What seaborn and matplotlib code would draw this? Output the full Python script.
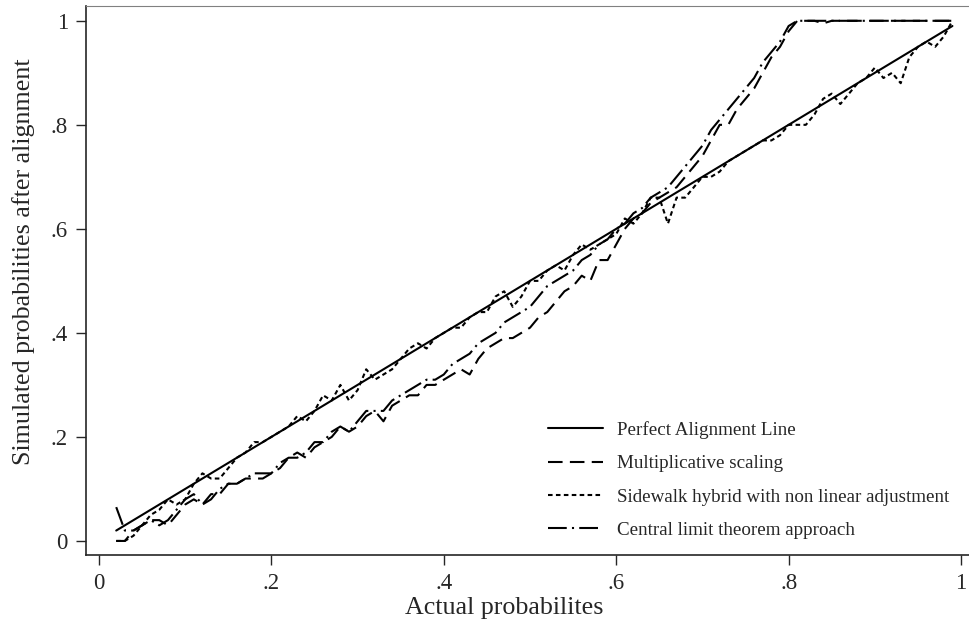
import numpy as np
import pandas as pd
import seaborn as sns
import matplotlib.pyplot as plt

# actual probabilities 0.02 .. 0.99
actual = [round(0.02 + 0.01 * i, 2) for i in range(98)]

perfect = actual

multiplicative = [
    0.00, 0.00, 0.02, 0.03, 0.04, 0.04, 0.03, 0.05, 0.07, 0.08,
    0.07, 0.09, 0.09, 0.11, 0.11, 0.12, 0.12, 0.12, 0.13, 0.14,
    0.16, 0.17, 0.16, 0.18, 0.19, 0.20, 0.22, 0.21, 0.22, 0.24,
    0.25, 0.23, 0.26, 0.27, 0.28, 0.28, 0.30, 0.30, 0.31, 0.32,
    0.33, 0.32, 0.35, 0.37, 0.38, 0.39, 0.39, 0.40, 0.41, 0.43,
    0.44, 0.46, 0.48, 0.49, 0.51, 0.50, 0.54, 0.54, 0.57, 0.60,
    0.62, 0.63, 0.65, 0.66, 0.67, 0.68, 0.70, 0.72, 0.74, 0.77,
    0.80, 0.80, 0.83, 0.85, 0.87, 0.90, 0.93, 0.95, 0.98, 1.00,
    1.00, 1.00, 0.995, 1.00, 1.00, 1.00, 1.00, 1.00, 1.00, 1.00,
    1.00, 1.00, 1.00, 1.00, 1.00, 1.00, 1.00, 1.00,
]

sidewalk = [
    0.00, 0.00, 0.01, 0.03, 0.05, 0.06, 0.08, 0.07, 0.08, 0.11,
    0.13, 0.12, 0.12, 0.14, 0.16, 0.17, 0.19, 0.19, 0.20, 0.21,
    0.22, 0.24, 0.23, 0.25, 0.28, 0.27, 0.30, 0.27, 0.29, 0.33,
    0.31, 0.32, 0.33, 0.35, 0.37, 0.38, 0.37, 0.39, 0.40, 0.41,
    0.41, 0.43, 0.44, 0.44, 0.47, 0.48, 0.45, 0.47, 0.50, 0.50,
    0.52, 0.53, 0.52, 0.55, 0.57, 0.56, 0.57, 0.58, 0.59, 0.62,
    0.61, 0.63, 0.66, 0.66, 0.61, 0.66, 0.66, 0.68, 0.70, 0.70,
    0.71, 0.73, 0.74, 0.75, 0.76, 0.77, 0.77, 0.78, 0.80, 0.80,
    0.80, 0.82, 0.85, 0.86, 0.84, 0.86, 0.88, 0.89, 0.91, 0.89,
    0.90, 0.88, 0.93, 0.95, 0.96, 0.95, 0.97, 1.00,
]

clt = [
    0.065, 0.02, 0.02, 0.03, 0.04, 0.03, 0.04, 0.06, 0.08, 0.09,
    0.07, 0.08, 0.10, 0.11, 0.11, 0.12, 0.13, 0.13, 0.13, 0.15,
    0.16, 0.16, 0.17, 0.19, 0.19, 0.21, 0.22, 0.21, 0.23, 0.25,
    0.25, 0.25, 0.27, 0.28, 0.29, 0.30, 0.31, 0.31, 0.32, 0.34,
    0.35, 0.36, 0.38, 0.39, 0.40, 0.42, 0.43, 0.44, 0.45, 0.47,
    0.49, 0.50, 0.51, 0.52, 0.54, 0.55, 0.57, 0.58, 0.60, 0.61,
    0.63, 0.64, 0.66, 0.67, 0.68, 0.70, 0.72, 0.74, 0.76, 0.79,
    0.81, 0.83, 0.85, 0.87, 0.89, 0.92, 0.94, 0.96, 0.99, 1.00,
    1.00, 1.00, 1.00, 1.00, 1.00, 1.00, 1.00, 1.00, 1.00, 1.00,
    1.00, 1.00, 1.00, 1.00, 1.00, 1.00, 1.00, 1.00,
]

labels = ["Perfect Alignment Line", "Multiplicative scaling",
          "Sidewalk hybrid with non linear adjustment",
          "Central limit theorem approach"]

sns.set_style("ticks")
plt.rcParams['font.family'] = ['Liberation Serif', 'DejaVu Serif']

fig = plt.figure(figsize=(9.69, 6.35), dpi=100)
ax = fig.add_axes([0.0888, 0.126, 0.911, 0.865])

styles = ['-', (0, (7, 3.5)), (0, (2.2, 1.6)), (0, (9, 2.5, 1, 2.5))]
for ys, lab, ls in zip([perfect, multiplicative, sidewalk, clt], labels, styles):
    sns.lineplot(x=actual, y=ys, ax=ax, color='black', linestyle=ls,
                 linewidth=1.5, label=lab)

ax.set_xlim(-0.015, 1.009)
ax.set_ylim(-0.027, 1.029)
ticks = [0, 0.2, 0.4, 0.6, 0.8, 1]
ticklabels = ['0', '.2', '.4', '.6', '.8', '1']
ax.set_xticks(ticks)
ax.set_xticklabels(ticklabels)
ax.set_yticks(ticks)
ax.set_yticklabels(ticklabels)
ax.tick_params(direction='out', length=7, width=1, labelsize=16.5, pad=6)
ax.set_xlabel("Actual probabilites", fontsize=18.7, labelpad=2)
ax.set_ylabel("Simulated probabilities after alignment", fontsize=18.7, labelpad=11)
ax.xaxis.label.set_x(0.474)
ax.yaxis.label.set_y(0.534)

ax.spines['right'].set_visible(False)
ax.spines['top'].set_color('#808080')
for s in ['left', 'bottom']:
    ax.spines[s].set_linewidth(1.2)

ax.legend(loc='upper left', bbox_to_anchor=(531 / 969, 1 - 404 / 635),
          bbox_transform=fig.transFigure, frameon=False, fontsize=13.7,
          handlelength=2.9, labelspacing=0.84, handletextpad=0.74)

fig.savefig('out.png', dpi=100)
